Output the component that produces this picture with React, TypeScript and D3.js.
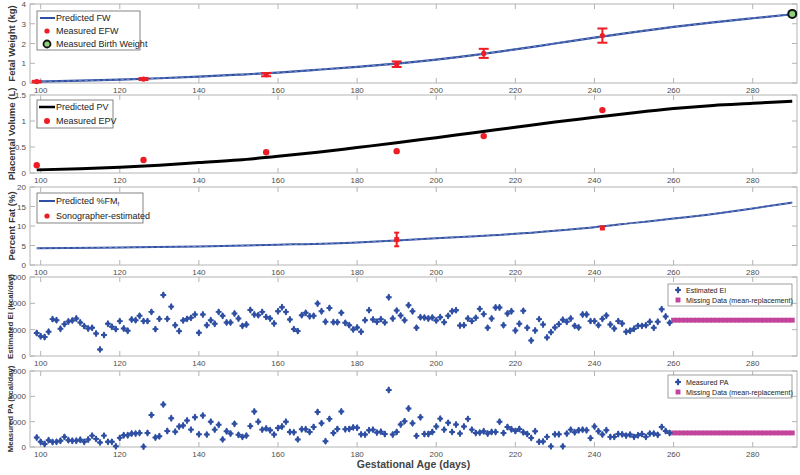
import React from 'react';
import * as d3 from 'd3';

// ---- data ----
const fwDays = [99, 110, 120, 130, 140, 150, 160, 170, 180, 190, 200, 210, 220, 230, 240, 250, 260, 270, 280, 290];
const fwPred = [0.07, 0.12, 0.17, 0.24, 0.32, 0.42, 0.53, 0.67, 0.82, 0.98, 1.18, 1.42, 1.7, 2.0, 2.3, 2.58, 2.84, 3.07, 3.28, 3.48];
const efwDays = [99, 126, 157, 190, 212, 242];
const efwVals = [0.07, 0.2, 0.42, 0.95, 1.5, 2.4];
const efwErr = [0.04, 0.05, 0.08, 0.14, 0.23, 0.36];
const birthDay = 290;
const birthWeight = 3.5;

const pvDays = [99, 110, 120, 130, 140, 150, 160, 170, 180, 190, 200, 210, 220, 230, 240, 250, 260, 270, 280, 290];
const pvPred = [0.06, 0.08, 0.11, 0.15, 0.2, 0.25, 0.32, 0.4, 0.49, 0.58, 0.68, 0.78, 0.88, 0.98, 1.07, 1.16, 1.24, 1.3, 1.34, 1.38];
const epvDays = [99, 126, 157, 190, 212, 242];
const epvVals = [0.15, 0.25, 0.4, 0.42, 0.71, 1.21];

const fmDays = [99, 120, 140, 160, 180, 190, 200, 210, 220, 230, 240, 250, 260, 270, 280, 290];
const fmPred = [4.3, 4.5, 4.75, 5.2, 5.8, 6.3, 6.85, 7.4, 8.0, 8.8, 9.7, 10.8, 11.9, 13.1, 14.5, 16.0];
const sonoDays = [190, 242];
const sonoVals = [6.5, 9.5];
const sonoLo = [4.8, 9.5];
const sonoHi = [8.3, 9.5];

const eiStart = 99;
const eiVals = [
  1750, 1500, 1440, 1840, 2800, 2720, 2070, 2420, 2620, 2700,
  2850, 2550, 2270, 2090, 2140, 1710, 500, 1590, 2450, 2220,
  2040, 2650, 2090, 1920, 2770, 2720, 3050, 2650, 2650, 3350,
  2040, 2820, 4640, 2820, 3750, 2340, 1890, 2700, 2820, 2900,
  3150, 1760, 3150, 2340, 2720, 2450, 3350, 3050, 2550, 2550,
  3230, 2850, 2290, 2390, 3500, 3150, 3100, 3350, 2970, 2850,
  2470, 3400, 3700, 3350, 2770, 2040, 1890, 3100, 3280, 3020,
  3050, 3980, 3400, 2600, 3650, 2570, 2570, 3280, 2520, 2340,
  2020, 2170, 1840, 2720, 3480, 2770, 2600, 2800, 2550, 4460,
  2850, 3450, 3070, 2720, 3860, 3400, 2140, 2950, 2920, 2850,
  2920, 2700, 2950, 2570, 3050, 3400, 3480, 2320, 2340, 2850,
  2650, 2900, 3580, 3180, 2140, 2850, 3680, 3680, 2340, 3230,
  3400, 1940, 2450, 3430, 2140, 1180, 1940, 2800, 2390, 1410,
  1810, 2170, 2420, 2750, 2600, 2850, 2290, 2170, 3150, 3150,
  2650, 2650, 2340, 2820, 3070, 2390, 2090, 2650, 2470, 1840,
  1920, 2070, 2290, 2290, 2340, 2600, 2140, 2600, 3550, 3000,
  2520,
];
const paStart = 99;
const paVals = [
  375, 205, 115, 270, 195, 205, 245, 400, 270, 245,
  245, 285, 205, 297, 450, 320, 180, 450, 205, 205,
  30, 360, 465, 465, 530, 530, 555, 15, 555, 1265,
  375, 425, 1680, 630, 1135, 605, 810, 850, 1045, 685,
  1175, 500, 1240, 490, 1000, 685, 880, 300, 620, 530,
  915, 480, 400, 450, 825, 1400, 1000, 685, 735, 660,
  490, 750, 810, 1000, 595, 580, 300, 700, 700, 595,
  790, 1380, 940, 230, 1110, 555, 710, 1400, 700, 710,
  775, 760, 500, 490, 660, 685, 570, 605, 515, 2250,
  490, 595, 890, 1020, 1520, 940, 440, 1175, 515, 515,
  595, 810, 1120, 685, 955, 595, 890, 530, 810, 1110,
  685, 555, 570, 620, 530, 595, 595, 1000, 555, 790,
  700, 630, 710, 580, 515, 360, 620, 205, 220, 400,
  25, 500, 500, 25, 530, 685, 580, 660, 685, 660,
  350, 810, 620, 490, 660, 400, 400, 515, 500, 450,
  490, 400, 465, 515, 400, 530, 530, 480, 790, 630,
  555,
];
const missStart = 260;
const missEnd = 290;
const eiMean = 2720;
const paMean = 555;

const xTicks = [100, 120, 140, 160, 180, 200, 220, 240, 260, 280];

// ---- styling ----
const FONT = '"Liberation Sans", Arial, Helvetica, sans-serif';
const BLUE = '#2f4fa3';
const RED = '#ee1c24';
const MAGENTA = '#c2449b';
const GREEN = '#8fd07f';
const AXIS = '#b4b4b4';
const TICKTXT = '#4d4d4d';

const W = 800;
const H = 475;
const LEFT = 30;
const RIGHT = 797;

const x = d3.scaleLinear().domain([97.3, 291.2]).range([LEFT, RIGHT]);

type PanelProps = {
  top: number;
  bottom: number;
  yDomain: [number, number];
  yTicks: number[];
  label: string;
  labelSize: number;
  children: (y: d3.ScaleLinear<number, number>) => React.ReactNode;
};

function Panel({ top, bottom, yDomain, yTicks, label, labelSize, children }: PanelProps) {
  const y = d3.scaleLinear().domain(yDomain).range([bottom, top]);
  return (
    <g>
      <rect x={LEFT} y={top} width={RIGHT - LEFT} height={bottom - top} fill="white" stroke={AXIS} strokeWidth={1} />
      {xTicks.map(t => (
        <g key={'x' + t}>
          <line x1={x(t)} x2={x(t)} y1={bottom} y2={bottom - 5} stroke={AXIS} />
          <line x1={x(t)} x2={x(t)} y1={top} y2={top + 5} stroke={AXIS} />
          <text x={x(t)} y={bottom + 10} fontSize={8} fill={TICKTXT} textAnchor="middle">{t}</text>
        </g>
      ))}
      {yTicks.map(t => (
        <g key={'y' + t}>
          <line x1={LEFT} x2={LEFT + 5} y1={y(t)} y2={y(t)} stroke={AXIS} />
          <line x1={RIGHT} x2={RIGHT - 5} y1={y(t)} y2={y(t)} stroke={AXIS} />
          <text x={LEFT - 4} y={y(t) + 3} fontSize={8} fill={TICKTXT} textAnchor="end">{t}</text>
        </g>
      ))}
      <text
        transform={`translate(${labelSize > 8 ? 15 : 13},${(top + bottom) / 2}) rotate(-90)`}
        fontSize={labelSize}
        fontWeight="bold"
        fill="#333"
        textAnchor="middle"
      >
        {label}
      </text>
      {children(y)}
    </g>
  );
}

function ErrBar({ cx, y0, y1, cap }: { cx: number; y0: number; y1: number; cap: number }) {
  return (
    <g stroke={RED} strokeWidth={2}>
      <line x1={cx} x2={cx} y1={y0} y2={y1} />
      <line x1={cx - cap} x2={cx + cap} y1={y0} y2={y0} />
      <line x1={cx - cap} x2={cx + cap} y1={y1} y2={y1} />
    </g>
  );
}

const cross = d3.symbol().type(d3.symbolCross).size(19);
const diamond = d3.symbol().type(d3.symbolDiamond).size(16);
const square = d3.symbol().type(d3.symbolSquare).size(24);

function Dot({ cx, cy }: { cx: number; cy: number }) {
  return (
    <g transform={`translate(${cx},${cy})`} fill={BLUE}>
      <path d={cross() || ''} />
      <path d={diamond() || ''} />
    </g>
  );
}

export default function App() {
  const curve = (xs: number[], ys: number[], y: d3.ScaleLinear<number, number>) =>
    d3.line<number>().x((_, i) => x(xs[i])).y(d => y(d)).curve(d3.curveMonotoneX)(ys) || '';

  const missDays = d3.range(missStart, missEnd + 1);

  return (
    <svg width={W} height={H} style={{ position: 'absolute', left: 0, top: 0, fontFamily: FONT }}>
      <rect width={W} height={H} fill="white" />

      {/* Fetal weight */}
      <Panel top={4} bottom={83} yDomain={[0, 4]} yTicks={[0, 1, 2, 3, 4]} label="Fetal Weight (kg)" labelSize={9.5}>
        {y => (
          <g>
            <path d={curve(fwDays, fwPred, y)} fill="none" stroke={BLUE} strokeWidth={2.2} />
            <path d={curve(fwDays, fwPred, y)} fill="none" stroke="#8c9cc8" strokeWidth={0.8} strokeDasharray="3,3" />
            {efwDays.map((d, i) => (
              <g key={d}>
                <ErrBar cx={x(d)} y0={y(efwVals[i] - efwErr[i])} y1={y(efwVals[i] + efwErr[i])} cap={5} />
                <circle cx={x(d)} cy={y(efwVals[i])} r={2.6} fill={RED} />
              </g>
            ))}
            <circle cx={x(birthDay)} cy={y(birthWeight)} r={4} fill={GREEN} stroke="#111" strokeWidth={2} />
            <g>
              <rect x={37} y={11} width={103} height={39} fill="white" stroke="#666" strokeWidth={0.8} />
              <line x1={40} x2={55} y1={18} y2={18} stroke={BLUE} strokeWidth={2} />
              <text x={56} y={21} fontSize={9} fill="#222">Predicted FW</text>
              <circle cx={47} cy={31} r={2.6} fill={RED} />
              <text x={56} y={34} fontSize={9} fill="#222">Measured EFW</text>
              <circle cx={47} cy={44} r={3.5} fill={GREEN} stroke="#111" strokeWidth={1.8} />
              <text x={56} y={47} fontSize={9} fill="#222">Measured Birth Weight</text>
            </g>
          </g>
        )}
      </Panel>

      {/* Placental volume */}
      <Panel top={95} bottom={173} yDomain={[0, 1.5]} yTicks={[0, 0.5, 1, 1.5]} label="Placental Volume (L)" labelSize={9.5}>
        {y => (
          <g>
            <path d={curve(pvDays, pvPred, y)} fill="none" stroke="#000" strokeWidth={3} />
            {epvDays.map((d, i) => (
              <circle key={d} cx={x(d)} cy={y(epvVals[i])} r={3.2} fill={RED} />
            ))}
            <g>
              <rect x={37} y={100} width={76} height={28} fill="white" stroke="#666" strokeWidth={0.8} />
              <line x1={39} x2={55} y1={107} y2={107} stroke="#000" strokeWidth={2.5} />
              <text x={56} y={110} fontSize={9} fill="#222">Predicted PV</text>
              <circle cx={47} cy={121} r={3} fill={RED} />
              <text x={56} y={124} fontSize={9} fill="#222">Measured EPV</text>
            </g>
          </g>
        )}
      </Panel>

      {/* Percent fat */}
      <Panel top={187} bottom={265} yDomain={[0, 20]} yTicks={[0, 5, 10, 15, 20]} label="Percent Fat (%)" labelSize={9.5}>
        {y => (
          <g>
            <path d={curve(fmDays, fmPred, y)} fill="none" stroke={BLUE} strokeWidth={2} />
            <path d={curve(fmDays, fmPred, y)} fill="none" stroke="#8c9cc8" strokeWidth={0.8} strokeDasharray="3,3" />
            {sonoDays.map((d, i) => (
              <g key={d}>
                {sonoHi[i] > sonoLo[i] && <ErrBar cx={x(d)} y0={y(sonoLo[i])} y1={y(sonoHi[i])} cap={2.5} />}
                <rect x={x(d) - 2.5} y={y(sonoVals[i]) - 2.5} width={5} height={5} fill={RED} />
              </g>
            ))}
            <g>
              <rect x={37} y={193} width={106} height={30} fill="white" stroke="#666" strokeWidth={0.8} />
              <line x1={39} x2={55} y1={201} y2={201} stroke={BLUE} strokeWidth={2} />
              <text x={56} y={204} fontSize={9} fill="#222">
                Predicted %FM<tspan fontSize={6} dy={2}>f</tspan>
              </text>
              <circle cx={47} cy={216} r={2.6} fill={RED} />
              <text x={56} y={219} fontSize={9} fill="#222">Sonographer-estimated</text>
            </g>
          </g>
        )}
      </Panel>

      {/* Estimated EI */}
      <Panel top={277} bottom={356} yDomain={[0, 6000]} yTicks={[0, 2000, 4000, 6000]} label="Estimated EI (kcal/day)" labelSize={7.8}>
        {y => (
          <g>
            {missDays.map(d => (
              <path key={'m' + d} d={square() || ''} transform={`translate(${x(d)},${y(eiMean)})`} fill={MAGENTA} />
            ))}
            {eiVals.map((v, i) => (
              <Dot key={i} cx={x(eiStart + i)} cy={y(v)} />
            ))}
            <g>
              <rect x={668} y={284} width={124} height={22} fill="white" stroke="#888" strokeWidth={0.8} />
              <Dot cx={678} cy={290} />
              <text x={686} y={293} fontSize={7.1} fill="#222">Estimated EI</text>
              <path d={square() || ''} transform="translate(678,300)" fill={MAGENTA} />
              <text x={686} y={303} fontSize={7.1} fill="#222">Missing Data (mean-replacement)</text>
            </g>
          </g>
        )}
      </Panel>

      {/* Measured PA */}
      <Panel top={371} bottom={447} yDomain={[0, 3000]} yTicks={[0, 1000, 2000, 3000]} label="Measured PA (kcal/day)" labelSize={7.8}>
        {y => (
          <g>
            {missDays.map(d => (
              <path key={'m' + d} d={square() || ''} transform={`translate(${x(d)},${y(paMean)})`} fill={MAGENTA} />
            ))}
            {paVals.map((v, i) => (
              <Dot key={i} cx={x(paStart + i)} cy={y(v)} />
            ))}
            <g>
              <rect x={668} y={375} width={124} height={23} fill="white" stroke="#888" strokeWidth={0.8} />
              <Dot cx={678} cy={382} />
              <text x={686} y={385} fontSize={7.1} fill="#222">Measured PA</text>
              <path d={square() || ''} transform="translate(678,392)" fill={MAGENTA} />
              <text x={686} y={395} fontSize={7.1} fill="#222">Missing Data (mean-replacement)</text>
            </g>
          </g>
        )}
      </Panel>

      <text x={(LEFT + RIGHT) / 2} y={468} fontSize={10.5} fontWeight="bold" fill="#444" textAnchor="middle">
        Gestational Age (days)
      </text>
    </svg>
  );
}
